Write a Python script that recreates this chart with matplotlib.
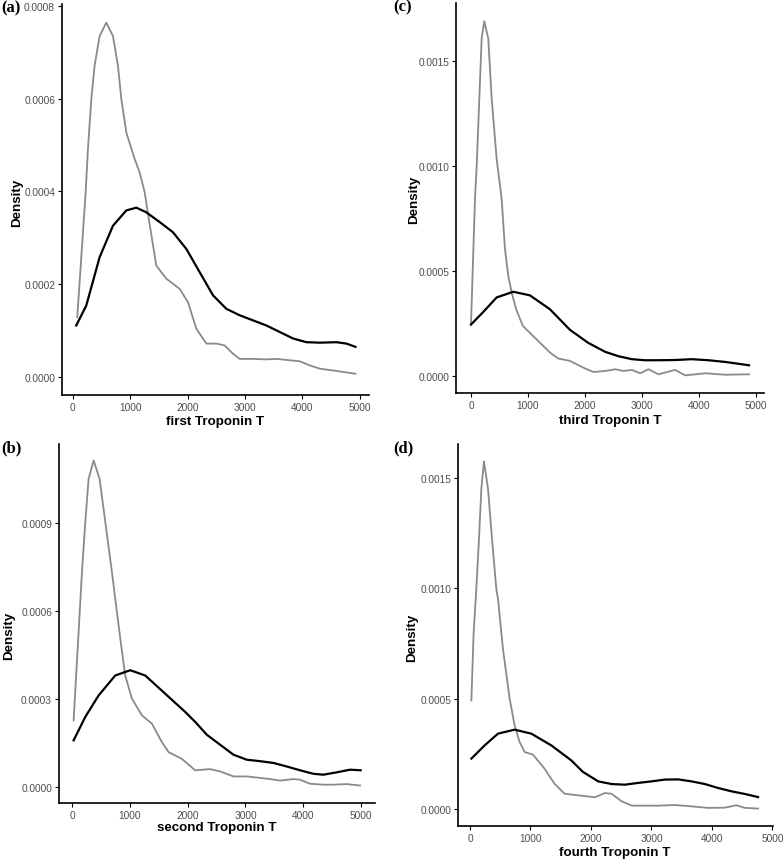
import matplotlib
matplotlib.use("Agg")
import matplotlib.pyplot as plt
from matplotlib.ticker import FormatStrFormatter

plt.rcParams['font.family'] = ['Liberation Sans', 'DejaVu Sans']

# (a) first Troponin T
a_gray_x = [76, 222, 262, 321, 378, 466, 582, 698, 785, 844, 931, 1076, 1163, 1251, 1330, 1453,
            1628, 1860, 2006, 2151, 2326, 2500, 2645, 2791, 2907, 3140, 3372, 3547, 3779, 3953,
            4128, 4302, 4535, 4924]
a_gray_y = [0.000129, 0.000398, 0.000491, 0.000599, 0.000671, 0.000735, 0.000764, 0.000735,
            0.000671, 0.000599, 0.000527, 0.000470, 0.000441, 0.000398, 0.000335, 0.000240,
            0.000212, 0.000190, 0.000161, 0.000104, 0.000072, 0.000072, 0.000068, 0.000050,
            0.000039, 0.000039, 0.000038, 0.000039, 0.000036, 0.000034, 0.000025, 0.000018,
            0.000014, 0.000007]
a_black_x = [58, 233, 465, 698, 930, 1105, 1279, 1512, 1744, 1977, 2209, 2442, 2674, 2907, 3140,
             3372, 3605, 3837, 4070, 4302, 4593, 4767, 4924]
a_black_y = [0.000111, 0.000154, 0.000258, 0.000326, 0.000359, 0.000365, 0.000355, 0.000334,
             0.000312, 0.000276, 0.000226, 0.000176, 0.000147, 0.000133, 0.000122, 0.000111,
             0.000097, 0.000083, 0.000075, 0.000074, 0.000075, 0.000072, 0.000065]

# (b) second Troponin T
b_gray_x = [28, 114, 172, 230, 287, 374, 477, 576, 691, 748, 835, 921, 1037, 1210, 1382, 1555,
            1670, 1900, 2131, 2390, 2563, 2794, 3024, 3254, 3427, 3600, 3830, 3945, 4118, 4349,
            4522, 4752, 4983]
b_gray_y = [0.000227, 0.000528, 0.000732, 0.000903, 0.001050, 0.001113, 0.001050, 0.000903,
            0.000732, 0.000642, 0.000506, 0.000380, 0.000301, 0.000244, 0.000216, 0.000153,
            0.000119, 0.000096, 0.000057, 0.000061, 0.000053, 0.000036, 0.000036, 0.000031,
            0.000027, 0.000022, 0.000027, 0.000025, 0.000011, 0.000008, 0.000008, 0.000010,
            0.000005]
b_black_x = [28, 230, 460, 748, 1007, 1267, 1612, 1958, 2131, 2333, 2563, 2794, 3024, 3254, 3485,
             3715, 3945, 4176, 4349, 4579, 4810, 4994]
b_black_y = [0.000159, 0.000239, 0.000312, 0.000380, 0.000398, 0.000380, 0.000318, 0.000256,
             0.000222, 0.000178, 0.000144, 0.000110, 0.000093, 0.000088, 0.000082, 0.000070,
             0.000057, 0.000045, 0.000042, 0.000050, 0.000059, 0.000057]

# (c) third Troponin T
c_gray_x = [0, 70, 100, 146, 187, 233, 303, 363, 450, 538, 596, 654, 713, 792, 909, 1086, 1209,
            1384, 1530, 1735, 1968, 2150, 2354, 2530, 2676, 2822, 2968, 3114, 3289, 3581, 3756,
            4107, 4457, 4877]
c_gray_y = [0.000245, 0.000843, 0.001002, 0.001320, 0.001607, 0.001689, 0.001607, 0.001320,
            0.001034, 0.000843, 0.000604, 0.000477, 0.000398, 0.000318, 0.000239, 0.000191,
            0.000159, 0.000112, 0.000083, 0.000072, 0.000040, 0.000019, 0.000024, 0.000032,
            0.000024, 0.000029, 0.000013, 0.000032, 0.000008, 0.000029, 0.000003, 0.000013,
            0.000006, 0.000008]
c_black_x = [0, 216, 450, 741, 1033, 1384, 1735, 2055, 2354, 2588, 2822, 3055, 3289, 3581, 3873,
             4165, 4457, 4877]
c_black_y = [0.000245, 0.000305, 0.000374, 0.000401, 0.000384, 0.000318, 0.000220, 0.000158,
             0.000115, 0.000094, 0.000080, 0.000075, 0.000075, 0.000076, 0.000080, 0.000075,
             0.000067, 0.000051]

# (d) fourth Troponin T
d_gray_x = [23, 61, 105, 149, 188, 231, 298, 364, 435, 463, 545, 656, 738, 821, 904, 1041, 1234,
            1399, 1565, 1784, 2065, 2230, 2340, 2506, 2676, 2891, 3112, 3387, 3662, 3938, 4213,
            4405, 4543, 4763]
d_gray_y = [0.000491, 0.000801, 0.000997, 0.001223, 0.001450, 0.001573, 0.001450, 0.001223,
            0.000997, 0.000952, 0.000725, 0.000499, 0.000378, 0.000303, 0.000258, 0.000246,
            0.000182, 0.000114, 0.000069, 0.000062, 0.000053, 0.000072, 0.000069, 0.000035,
            0.000015, 0.000015, 0.000015, 0.000018, 0.000012, 0.000005, 0.000006, 0.000017,
            0.000005, 0.000002]
d_black_x = [23, 243, 463, 738, 1014, 1344, 1675, 1867, 2120, 2340, 2561, 2781, 3001, 3222, 3442,
             3662, 3883, 4103, 4323, 4543, 4763]
d_black_y = [0.000228, 0.000288, 0.000341, 0.000359, 0.000341, 0.000288, 0.000220, 0.000168,
             0.000125, 0.000113, 0.000110, 0.000118, 0.000125, 0.000133, 0.000134, 0.000125,
             0.000113, 0.000095, 0.000080, 0.000068, 0.000054]

x_ticks = [0, 1000, 2000, 3000, 4000, 5000]

W, H = 784, 862
fig = plt.figure(figsize=(W / 100, H / 100), dpi=100)


def rect(l, t, r, b):
    return [l / W, 1 - b / H, (r - l) / W, (b - t) / H]


def panel(box, gx, gy, bx, by, xlim, ylim, yticks, xlabel, xlab_px, ylab_px, letter, let_px):
    l, t, r, b = box
    ax = fig.add_axes(rect(l, t, r, b))
    ax.plot(gx, gy, color='#8a8a8a', lw=1.3, solid_joinstyle='round')
    ax.plot(bx, by, color='black', lw=1.6, solid_joinstyle='round')
    ax.set_xlim(*xlim)
    ax.set_ylim(*ylim)
    ax.set_xticks(x_ticks)
    ax.set_yticks(yticks)
    ax.yaxis.set_major_formatter(FormatStrFormatter('%.4f'))
    for s in ['top', 'right']:
        ax.spines[s].set_visible(False)
    for s in ['left', 'bottom']:
        ax.spines[s].set_linewidth(1.2)
    ax.tick_params(length=3, width=0.8, labelsize=7.3, labelcolor='#4d4d4d', pad=2)
    ax.set_xlabel(xlabel, fontsize=9.6, fontweight='bold', va='center')
    ax.set_ylabel('Density', fontsize=9.6, fontweight='bold', va='center')
    ax.xaxis.set_label_coords((xlab_px[0] - l) / (r - l), (b - xlab_px[1]) / (b - t))
    ax.yaxis.set_label_coords((ylab_px[0] - l) / (r - l), (b - ylab_px[1]) / (b - t))
    fig.text(let_px[0] / W, 1 - let_px[1] / H, letter, family='Liberation Serif',
             fontweight='bold', fontsize=12, ha='left', va='center')
    return ax


panel((62, 5, 369, 396), a_gray_x, a_gray_y, a_black_x, a_black_y,
      (-190, 5160), (-0.0000388, 0.000804), [0, 0.0002, 0.0004, 0.0006, 0.0008],
      'first Troponin T', (215, 422), (17, 203), '(a)', (1, 8))

panel((456, 4, 764, 394), c_gray_x, c_gray_y, c_black_x, c_black_y,
      (-263, 5140), (-0.000081, 0.001776), [0, 0.0005, 0.0010, 0.0015],
      'third Troponin T', (610, 421), (414, 200), '(c)', (393, 7))

panel((59, 445, 375, 804), b_gray_x, b_gray_y, b_black_x, b_black_y,
      (-225, 5242), (-0.0000545, 0.001169), [0, 0.0003, 0.0006, 0.0009],
      'second Troponin T', (217, 828), (9, 636), '(b)', (1, 448))

panel((458, 445, 773, 827), d_gray_x, d_gray_y, d_black_x, d_black_y,
      (-198, 5010), (-0.000077, 0.001652), [0, 0.0005, 0.0010, 0.0015],
      'fourth Troponin T', (615, 853), (412, 638), '(d)', (393, 448))

fig.savefig('out.png', dpi=100)
